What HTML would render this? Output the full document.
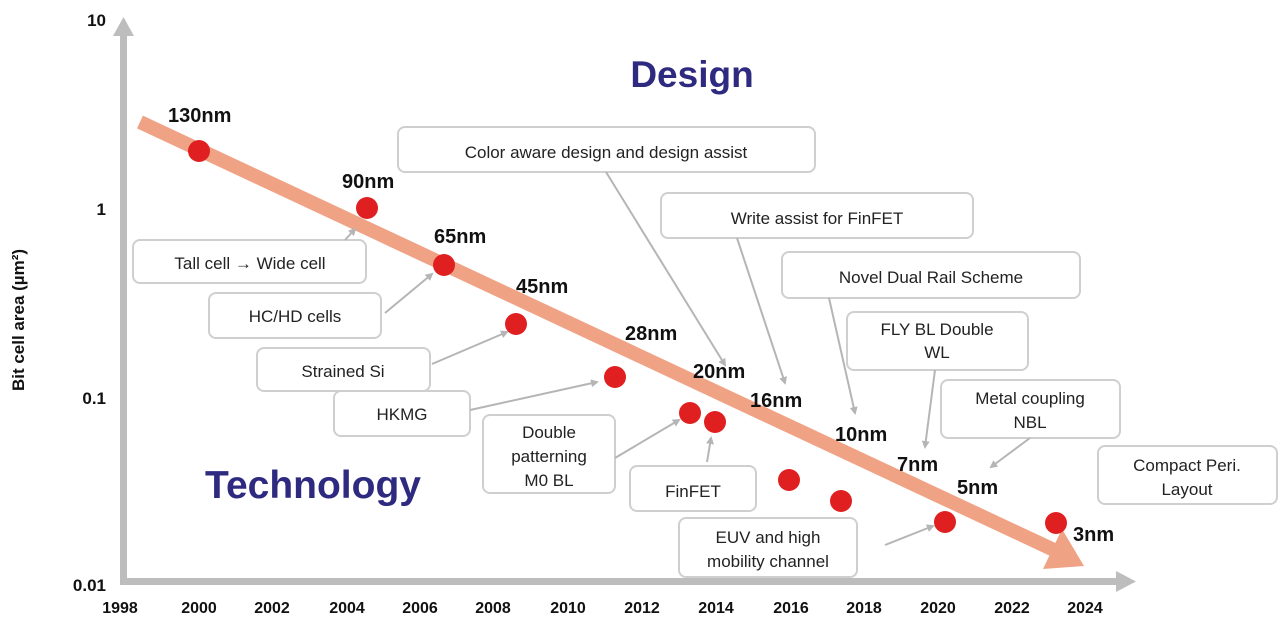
<!DOCTYPE html>
<html><head><style>
body{margin:0;background:#fff;}
svg{display:block;font-family:"Liberation Sans",Arial,sans-serif;}
.b{font-weight:bold;font-size:20px;fill:#111;}
.t{font-size:17px;fill:#222;text-anchor:middle;}
.bx{fill:#fff;stroke:#cfcfcf;stroke-width:2;}
.ar{stroke:#b5b5b5;stroke-width:2;fill:none;marker-end:url(#ah);}
.ax{font-weight:bold;font-size:16px;fill:#111;text-anchor:middle;}
</style></head><body>
<svg width="1280" height="627" viewBox="0 0 1280 627">
<defs><marker id="ah" markerWidth="8" markerHeight="8" refX="6" refY="4" orient="auto" markerUnits="userSpaceOnUse"><path d="M0,0 L8,4 L0,8 z" fill="#b5b5b5"/></marker></defs>
<rect x="120" y="32" width="7" height="552" fill="#bdbdbd"/>
<polygon points="123.5,17 113,36 134,36" fill="#bdbdbd"/>
<rect x="120" y="578" width="1000" height="7" fill="#bdbdbd"/>
<polygon points="1136,581.5 1116,571 1116,592" fill="#bdbdbd"/>
<g class="ax" style="text-anchor:end;font-size:17px">
<text x="106" y="26">10</text><text x="106" y="215">1</text><text x="106" y="404">0.1</text><text x="106" y="591">0.01</text></g>
<g class="ax">
<text x="120" y="613">1998</text><text x="199" y="613">2000</text><text x="272" y="613">2002</text><text x="347" y="613">2004</text><text x="420" y="613">2006</text><text x="493" y="613">2008</text><text x="568" y="613">2010</text><text x="642" y="613">2012</text><text x="716" y="613">2014</text><text x="791" y="613">2016</text><text x="864" y="613">2018</text><text x="938" y="613">2020</text><text x="1012" y="613">2022</text><text x="1085" y="613">2024</text></g>
<text transform="translate(24,320) rotate(-90)" style="font-weight:bold;font-size:17px;fill:#111;text-anchor:middle">Bit cell area (µm²)</text>
<line x1="140" y1="122" x2="1054" y2="550" stroke="#f0a285" stroke-width="14"/>
<polygon points="1084,566 1043,569 1062,529" fill="#f0a285"/>
<text x="692" y="87" style="font-weight:bold;font-size:37px;fill:#2e2a80;text-anchor:middle">Design</text>
<text x="313" y="498" style="font-weight:bold;font-size:39px;fill:#2e2a80;text-anchor:middle">Technology</text>
<rect class="bx" x="398" y="127" width="417" height="45" rx="7"/><text class="t" x="606" y="158">Color aware design and design assist</text>
<rect class="bx" x="661" y="193" width="312" height="45" rx="7"/><text class="t" x="817" y="224">Write assist for FinFET</text>
<rect class="bx" x="782" y="252" width="298" height="46" rx="7"/><text class="t" x="931" y="283">Novel Dual Rail Scheme</text>
<rect class="bx" x="847" y="312" width="181" height="58" rx="7"/><text class="t" x="937" y="335">FLY BL Double</text><text class="t" x="937" y="358">WL</text>
<rect class="bx" x="941" y="380" width="179" height="58" rx="7"/><text class="t" x="1030" y="404">Metal coupling</text><text class="t" x="1030" y="428">NBL</text>
<rect class="bx" x="1098" y="446" width="179" height="58" rx="7"/><text class="t" x="1187" y="471">Compact Peri.</text><text class="t" x="1187" y="495">Layout</text>
<rect class="bx" x="133" y="240" width="233" height="43" rx="7"/><text class="t" x="250" y="269">Tall cell <tspan style="font-weight:bold">→</tspan> Wide cell</text>
<rect class="bx" x="209" y="293" width="172" height="45" rx="7"/><text class="t" x="295" y="322">HC/HD cells</text>
<rect class="bx" x="257" y="348" width="173" height="43" rx="7"/><text class="t" x="343" y="377">Strained Si</text>
<rect class="bx" x="334" y="391" width="136" height="45" rx="7"/><text class="t" x="402" y="420">HKMG</text>
<rect class="bx" x="483" y="415" width="132" height="78" rx="7"/><text class="t" x="549" y="438">Double</text><text class="t" x="549" y="462">patterning</text><text class="t" x="549" y="486">M0 BL</text>
<rect class="bx" x="630" y="466" width="126" height="45" rx="7"/><text class="t" x="693" y="497">FinFET</text>
<rect class="bx" x="679" y="518" width="178" height="59" rx="7"/><text class="t" x="768" y="543">EUV and high</text><text class="t" x="768" y="567">mobility channel</text>
<line class="ar" x1="345" y1="240" x2="355" y2="229"/>
<line class="ar" x1="385" y1="313" x2="432" y2="274"/>
<line class="ar" x1="432" y1="364" x2="507" y2="332"/>
<line class="ar" x1="470" y1="410" x2="597" y2="382"/>
<line class="ar" x1="615" y1="458" x2="679" y2="420"/>
<line class="ar" x1="707" y1="462" x2="711" y2="438"/>
<line class="ar" x1="885" y1="545" x2="933" y2="526"/>
<line class="ar" x1="606" y1="172" x2="725" y2="365"/>
<line class="ar" x1="737" y1="238" x2="785" y2="383"/>
<line class="ar" x1="829" y1="298" x2="855" y2="413"/>
<line class="ar" x1="935" y1="370" x2="925" y2="447"/>
<line class="ar" x1="1030" y1="438" x2="991" y2="467"/>
<g fill="#e02020">
<circle cx="199" cy="151" r="11"/><circle cx="367" cy="208" r="11"/><circle cx="444" cy="265" r="11"/><circle cx="516" cy="324" r="11"/><circle cx="615" cy="377" r="11"/><circle cx="690" cy="413" r="11"/><circle cx="715" cy="422" r="11"/><circle cx="789" cy="480" r="11"/><circle cx="841" cy="501" r="11"/><circle cx="945" cy="522" r="11"/><circle cx="1056" cy="523" r="11"/></g>
<g class="b">
<text x="168" y="122">130nm</text><text x="342" y="188">90nm</text><text x="434" y="243">65nm</text><text x="516" y="293">45nm</text><text x="625" y="340">28nm</text><text x="693" y="378">20nm</text><text x="750" y="407">16nm</text><text x="835" y="441">10nm</text><text x="897" y="471">7nm</text><text x="957" y="494">5nm</text><text x="1073" y="541">3nm</text></g>
</svg>
</body></html>
